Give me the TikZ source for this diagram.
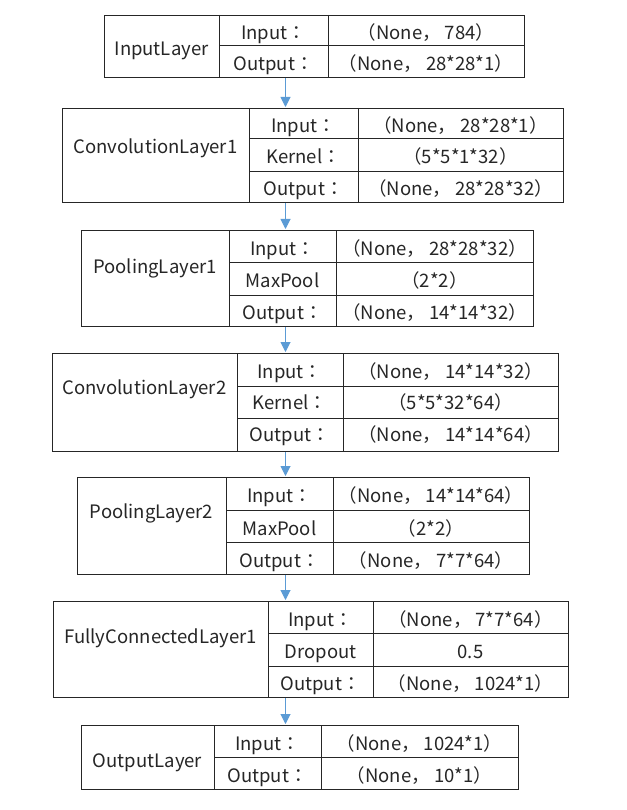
\documentclass[tikz,border=0pt]{standalone}
\usepackage{fontspec}
\setmainfont{Noto Sans CJK JP}
\usetikzlibrary{arrows.meta}
\definecolor{arrblue}{HTML}{5B9BD5}
\definecolor{ink}{HTML}{262626}
\tikzset{
  tbl/.style={draw=ink, line width=0.9pt, anchor=north west, inner sep=0pt},
  sep/.style={draw=ink, line width=0.9pt},
  txt/.style={font=\fontsize{18.5}{20}\selectfont, text=ink, inner sep=0pt, anchor=base, yshift=-6.8pt},
  arr/.style={draw=arrblue, line width=1pt, -{Triangle[width=10pt,length=10pt]}, shorten >=1pt}
}
\begin{document}
\begin{tikzpicture}[x=1pt,y=-1pt]
\useasboundingbox[fill=white] (0,0) rectangle (626,810);
\coordinate (ax) at (285.5,0);
% ---------- InputLayer
\node[tbl, minimum width=420pt, minimum height=62pt] (t1) at (104,15) {};
\draw[sep] (219,15) -- (219,77) (328,15) -- (328,77) (219,45) -- (524,45);
\node[txt] (t1l) at (161.5,49) {InputLayer};
\node[txt] (t1a) at (273.5,32.5) {Input：};
\node[txt] (t1b) at (426,32.5) {（None， 784）};
\node[txt] (t1c) at (273.5,63.5) {Output：};
\node[txt] (t1d) at (426,63.5) {（None， 28*28*1）};
% ---------- ConvolutionLayer1
\node[tbl, minimum width=501pt, minimum height=94pt] (t2) at (62,108) {};
\draw[sep] (249,108) -- (249,202) (358,108) -- (358,202) (249,138) -- (563,138) (249,171) -- (563,171);
\node[txt] (t2l) at (155.5,146.5) {ConvolutionLayer1};
\node[txt] (t2a) at (303.5,125.5) {Input：};
\node[txt] (t2b) at (460.5,125.5) {（None， 28*28*1）};
\node[txt] (t2c) at (303.5,157) {Kernel：};
\node[txt] (t2d) at (460.5,157) {（5*5*1*32）};
\node[txt] (t2e) at (303.5,189) {Output：};
\node[txt] (t2f) at (460.5,189) {（None， 28*28*32）};
% ---------- PoolingLayer1
\node[tbl, minimum width=452pt, minimum height=96pt] (t3) at (81,230) {};
\draw[sep] (229,230) -- (229,326) (336,230) -- (336,326) (229,262) -- (533,262) (229,295) -- (533,295);
\node[txt] (t3l) at (155,266.5) {PoolingLayer1};
\node[txt] (t3a) at (282.5,248.5) {Input：};
\node[txt] (t3b) at (434.5,248.5) {（None， 28*28*32）};
\node[txt] (t3c) at (282.5,281) {MaxPool};
\node[txt] (t3d) at (434.5,281) {（2*2）};
\node[txt] (t3e) at (282.5,313) {Output：};
\node[txt] (t3f) at (434.5,313) {（None， 14*14*32）};
% ---------- ConvolutionLayer2
\node[tbl, minimum width=506pt, minimum height=98pt] (t4) at (52,353) {};
\draw[sep] (237,353) -- (237,451) (343,353) -- (343,451) (237,386) -- (558,386) (237,418) -- (558,418);
\node[txt] (t4l) at (144.5,388) {ConvolutionLayer2};
\node[txt] (t4a) at (290,371.5) {Input：};
\node[txt] (t4b) at (450.5,371.5) {（None， 14*14*32）};
\node[txt] (t4c) at (290,403) {Kernel：};
\node[txt] (t4d) at (450.5,403) {（5*5*32*64）};
\node[txt] (t4e) at (290,435) {Output：};
\node[txt] (t4f) at (450.5,435) {（None， 14*14*64）};
% ---------- PoolingLayer2
\node[tbl, minimum width=452pt, minimum height=97pt] (t5) at (77,477) {};
\draw[sep] (226,477) -- (226,574) (333,477) -- (333,574) (226,510) -- (529,510) (226,542) -- (529,542);
\node[txt] (t5l) at (151.5,511.5) {PoolingLayer2};
\node[txt] (t5a) at (279.5,496) {Input：};
\node[txt] (t5b) at (431,496) {（None， 14*14*64）};
\node[txt] (t5c) at (279.5,528.5) {MaxPool};
\node[txt] (t5d) at (431,528.5) {（2*2）};
\node[txt] (t5e) at (279.5,560.5) {Output：};
\node[txt] (t5f) at (431,560.5) {（None， 7*7*64）};
% ---------- FullyConnectedLayer1
\node[tbl, minimum width=515pt, minimum height=96pt] (t6) at (53,601) {};
\draw[sep] (268,601) -- (268,697) (373,601) -- (373,697) (268,633) -- (568,633) (268,666) -- (568,666);
\node[txt] (t6l) at (160.5,637) {FullyConnectedLayer1};
\node[txt] (t6a) at (320.5,619.5) {Input：};
\node[txt] (t6b) at (470.5,619.5) {（None， 7*7*64）};
\node[txt] (t6c) at (320.5,652) {Dropout};
\node[txt] (t6d) at (470.5,652) {0.5};
\node[txt] (t6e) at (320.5,684) {Output：};
\node[txt] (t6f) at (470.5,684) {（None， 1024*1）};
% ---------- OutputLayer
\node[tbl, minimum width=437pt, minimum height=64pt] (t7) at (81,725) {};
\draw[sep] (214,725) -- (214,789) (321,725) -- (321,789) (214,757) -- (518,757);
\node[txt] (t7l) at (147.5,761) {OutputLayer};
\node[txt] (t7a) at (267.5,743.5) {Input：};
\node[txt] (t7b) at (419.5,743.5) {（None， 1024*1）};
\node[txt] (t7c) at (267.5,775.5) {Output：};
\node[txt] (t7d) at (419.5,775.5) {（None， 10*1）};
% ---------- arrows
\draw[arr] (t1.south -| ax) -- (t2.north -| ax);
\draw[arr] (t2.south -| ax) -- (t3.north -| ax);
\draw[arr] (t3.south -| ax) -- (t4.north -| ax);
\draw[arr] (t4.south -| ax) -- (t5.north -| ax);
\draw[arr] (t5.south -| ax) -- (t6.north -| ax);
\draw[arr] (t6.south -| ax) -- (t7.north -| ax);
\end{tikzpicture}
\end{document}
